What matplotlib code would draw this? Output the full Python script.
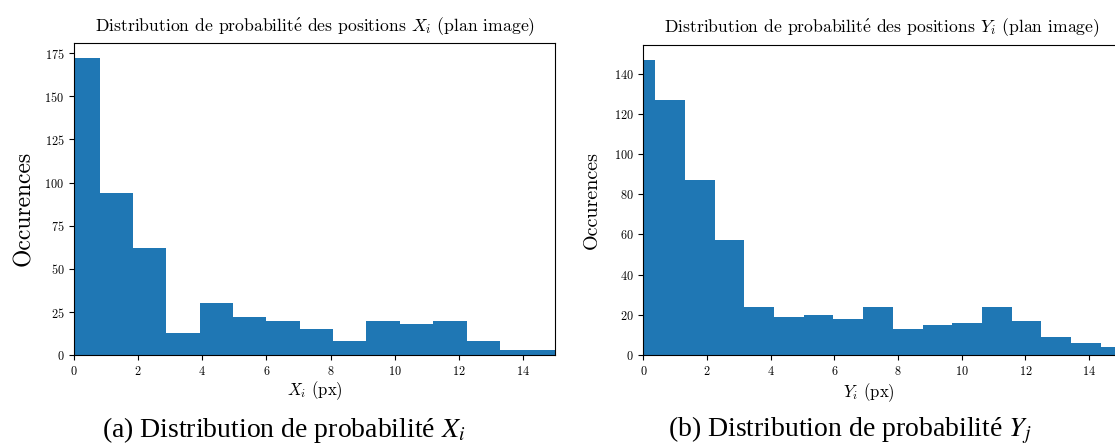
import matplotlib
matplotlib.use('Agg')
import matplotlib.pyplot as plt
import numpy as np

# histogram counts
x_edges = [-0.24, 0.80, 1.84, 2.88, 3.92, 4.96, 6.00, 7.04, 8.08, 9.12,
           10.16, 11.20, 12.24, 13.28, 14.32, 15.36]
x_counts = [172, 94, 62, 13, 30, 22, 20, 15, 8, 20, 18, 20, 8, 3, 3]

y_edges = [-0.56, 0.37, 1.30, 2.24, 3.17, 4.10, 5.04, 5.97, 6.90, 7.84,
           8.77, 9.70, 10.63, 11.57, 12.50, 13.43, 14.37, 15.30]
y_counts = [147, 127, 87, 57, 24, 19, 20, 18, 24, 13, 15, 16, 24, 17, 9, 6, 4]

titles = [r"Distribution de probabilit$\acute{\mathrm{e}}$ des positions $X_i$ (plan image)",
          r"Distribution de probabilit$\acute{\mathrm{e}}$ des positions $Y_i$ (plan image)"]
xlabels = [r"$X_i$ (px)", r"$Y_i$ (px)"]
captions = [r"(a) Distribution de probabilité $X_i$",
            r"(b) Distribution de probabilité $Y_j$"]

plt.rcParams['font.family'] = 'cmr10'
plt.rcParams['mathtext.fontset'] = 'cm'
plt.rcParams['axes.formatter.use_mathtext'] = True

fig = plt.figure(figsize=(11.15, 4.45), dpi=100)
ax1 = fig.add_axes([0.0664, 0.2016, 0.4314, 0.701])
ax2 = fig.add_axes([0.577, 0.2022, 0.4284, 0.697])

ax1.hist(x_edges[:-1], bins=x_edges, weights=x_counts, color='#1f77b4')
ax2.hist(y_edges[:-1], bins=y_edges, weights=y_counts, color='#1f77b4')

for i, ax in enumerate([ax1, ax2]):
    ax.set_xlim(0, 15)
    ax.set_xticks(np.arange(0, 15, 2))
    ax.tick_params(labelsize=8.8)
    ax.set_title(titles[i], fontsize=12.7, pad=9)
    ax.set_xlabel(xlabels[i], fontsize=12, labelpad=1)

ax1.set_ylabel("Occurences", fontsize=17, labelpad=7)
ax1.yaxis.label.set_y(0.472)
ax2.set_ylabel("Occurences", fontsize=14.5, labelpad=9)
ax2.xaxis.set_label_coords(0.472, -0.085)

fig.text(0.254, 0.034, captions[0], ha='center', va='center', fontsize=20,
         family='Liberation Serif', math_fontfamily='stix')
fig.text(0.762, 0.034, captions[1], ha='center', va='center', fontsize=20,
         family='Liberation Serif', math_fontfamily='stix')

fig.savefig('out.png', dpi=100)
